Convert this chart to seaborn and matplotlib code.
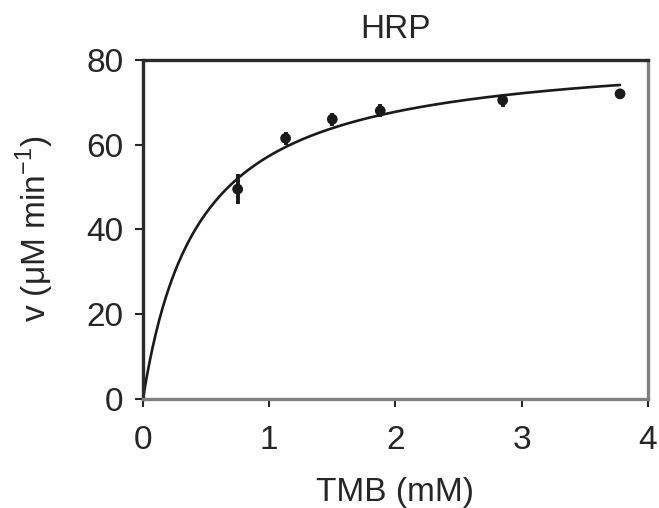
import numpy as np
import pandas as pd
import matplotlib
matplotlib.use("Agg")
import matplotlib.pyplot as plt
import seaborn as sns

tmb_mM = [0.75, 1.13, 1.50, 1.88, 2.85, 3.78]
rate = [49.5, 61.5, 66.0, 68.0, 70.5, 72.0]
rate_err = [3.5, 1.5, 1.5, 1.5, 1.5, 1.2]

# Michaelis-Menten fit parameters
vmax = 82.8
km = 0.444
x_max_fit = 3.78

x_ticks = [0, 1, 2, 3, 4]
y_ticks = [0, 20, 40, 60, 80]

sns.set_style("ticks")
plt.rcParams["font.family"] = ["Liberation Sans", "DejaVu Sans"]
plt.rcParams["mathtext.fontset"] = "custom"
plt.rcParams["mathtext.rm"] = "Liberation Sans"

df = pd.DataFrame({"TMB": tmb_mM, "v": rate, "err": rate_err})
xs = np.linspace(0, x_max_fit, 300)
fit = pd.DataFrame({"TMB": xs, "v": vmax * xs / (km + xs)})

fig, ax = plt.subplots(figsize=(6.59, 5.08), dpi=100)
fig.subplots_adjust(left=0.217, right=0.983, top=0.882, bottom=0.215)

fs = 24
txt = "#262626"

sns.lineplot(data=fit, x="TMB", y="v", color="#1a1a1a", lw=1.9, ax=ax)
ax.errorbar(df["TMB"], df["v"], yerr=df["err"], fmt="none",
            ecolor="#1a1a1a", elinewidth=2.8, capsize=0)
sns.scatterplot(data=df, x="TMB", y="v", color="#1a1a1a", s=60,
                edgecolor="none", ax=ax, zorder=3)

ax.set_xlim(0, 4)
ax.set_ylim(0, 80)
ax.set_xticks(x_ticks)
ax.set_yticks(y_ticks)
ax.set_xlabel("TMB (mM)", fontsize=fs, color=txt, labelpad=15)
ax.set_ylabel(r"v (μM min$^{-1}$)", fontsize=fs, color=txt, labelpad=22)
ax.set_title("HRP", fontsize=fs, color=txt, pad=16)
ax.tick_params(labelsize=fs, colors=txt, length=6, width=1.5)
ax.tick_params(axis="x", pad=13)
ax.tick_params(axis="y", pad=8)

for side in ["left", "top"]:
    ax.spines[side].set_visible(True)
    ax.spines[side].set_linewidth(2.4)
    ax.spines[side].set_color("#2b2b2b")
for side in ["right", "bottom"]:
    ax.spines[side].set_visible(True)
    ax.spines[side].set_linewidth(2.4)
    ax.spines[side].set_color("#808080")

fig.savefig("out.png", dpi=100)
